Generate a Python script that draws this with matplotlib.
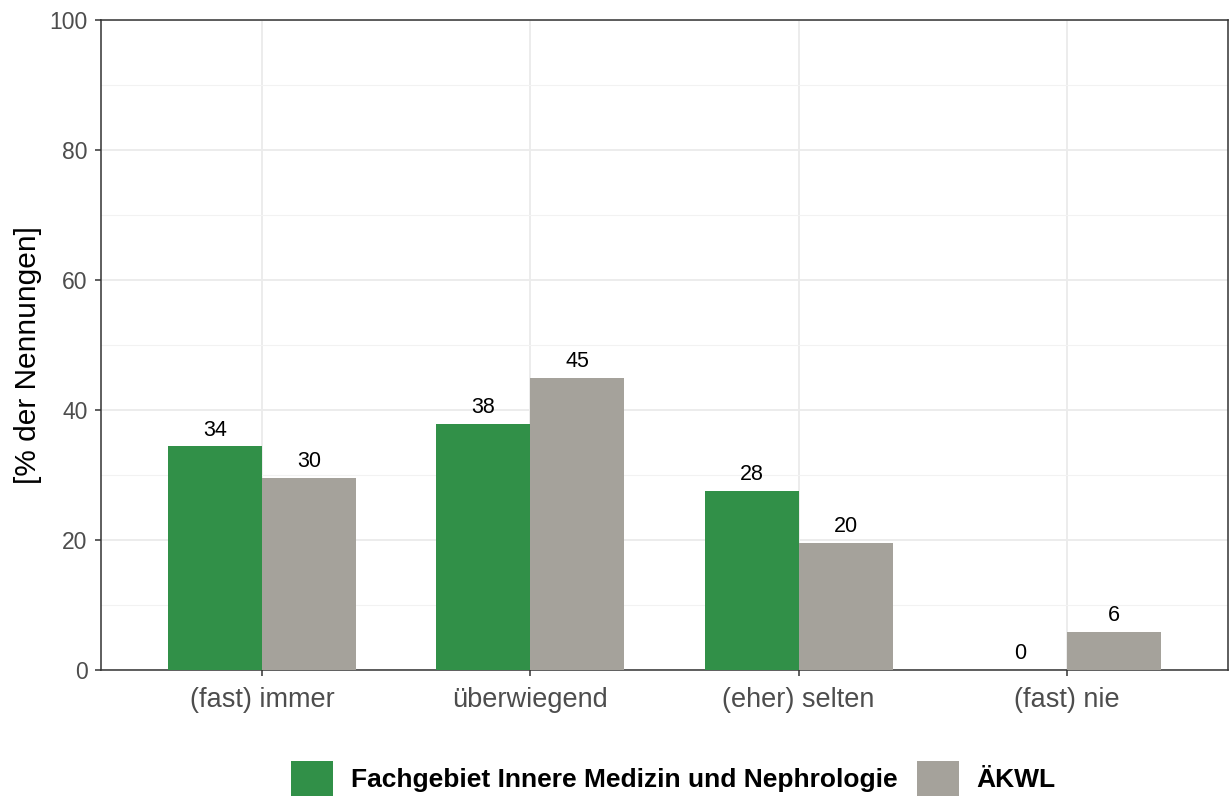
import numpy as np
import matplotlib
matplotlib.use("Agg")
import matplotlib.pyplot as plt
from matplotlib.patches import Patch

plt.rcParams['font.family'] = ['Liberation Sans', 'DejaVu Sans']

categories = ["(fast) immer", "überwiegend", "(eher) selten", "(fast) nie"]
series_names = ["Fachgebiet Innere Medizin und Nephrologie", "ÄKWL"]
fach_values = [34.4, 37.9, 27.6, 0.0]
aekwl_values = [29.6, 45.0, 19.6, 5.8]
colors = ["#319048", "#A5A29B"]

fig = plt.figure(figsize=(12.29, 7.96), dpi=100)
ax = fig.add_axes([101 / 1229, 126 / 796, 1127 / 1229, 650 / 796])

x = np.arange(1, len(categories) + 1)
w = 0.35
for vals, off, col in [(fach_values, -w / 2, colors[0]), (aekwl_values, w / 2, colors[1])]:
    ax.bar(x + off, vals, width=w, color=col, zorder=3)
    for xi, v in zip(x + off, vals):
        ax.text(xi, v + 0.9, f"{v:.0f}", ha="center", va="bottom",
                fontsize=15.5, color="black", zorder=4)

ax.set_xlim(0.4, 4.6)
ax.set_ylim(0, 100)
ax.set_xticks(x)
ax.set_xticklabels(categories)
ax.set_yticks(np.arange(0, 101, 20))
ax.set_yticks(np.arange(10, 100, 20), minor=True)
ax.grid(which="major", color="#EBEBEB", linewidth=1.3, zorder=0)
ax.grid(which="minor", axis="y", color="#F2F2F2", linewidth=0.8, zorder=0)
ax.tick_params(axis="both", which="major", labelcolor="#4D4D4D",
               color="#333333", length=4.3, width=1.1)
ax.tick_params(axis="y", labelsize=16.5, pad=5.5)
ax.tick_params(axis="x", labelsize=19.5, pad=8)
ax.tick_params(which="minor", length=0)
for s in ax.spines.values():
    s.set_color("#333333")
    s.set_linewidth(1.1)
ax.set_ylabel("[% der Nennungen]", fontsize=21.5, color="black")
ax.yaxis.set_label_coords(-0.0524, 0.485)

handles = [Patch(facecolor=c, edgecolor="none") for c in colors]
fig.legend(handles, series_names, loc="center", bbox_to_anchor=(0.548, 0.022),
           ncol=2, frameon=False, prop={"weight": "bold", "size": 19},
           handlelength=1.58, handleheight=1.7, columnspacing=0.75,
           handletextpad=0.68, borderpad=0, borderaxespad=0)

fig.savefig("out.png", dpi=100)
